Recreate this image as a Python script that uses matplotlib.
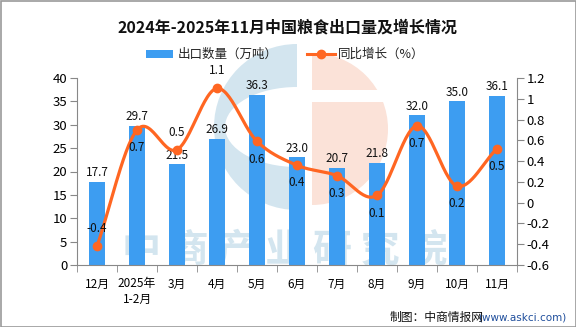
import numpy as np
import matplotlib
matplotlib.use("Agg")
import matplotlib.pyplot as plt
from matplotlib.patches import Wedge, Ellipse, Rectangle
from matplotlib.lines import Line2D

plt.rcParams['font.family'] = ['Noto Sans CJK SC', 'DejaVu Sans']

categories = ['12月', '2025年\n1-2月', '3月', '4月', '5月', '6月', '7月', '8月', '9月', '10月', '11月']
export_vol = [17.7, 29.7, 21.5, 26.9, 36.3, 23.0, 20.7, 21.8, 32.0, 35.0, 36.1]
yoy_growth = [-0.42, 0.70, 0.51, 1.10, 0.59, 0.36, 0.26, 0.07, 0.74, 0.16, 0.52]
yoy_labels = ['-0.4', '0.7', '0.5', '1.1', '0.6', '0.4', '0.3', '0.1', '0.7', '0.2', '0.5']
yoy_label_above = [True, False, True, True, False, False, False, False, False, False, False]

BAR_C = '#3d9df1'
LINE_C = '#ff6622'

W, H = 576, 327
fig = plt.figure(figsize=(W / 100, H / 100), dpi=100)
fig.patch.set_facecolor('white')

# background axes in pixel coords for watermark / legend / text
bg = fig.add_axes([0, 0, 1, 1], zorder=0)
bg.set_xlim(0, W)
bg.set_ylim(H, 0)
bg.axis('off')

# watermark logo
wm_blue = '#d3e5ef'
wm_orange = '#fbe2d8'
bg.add_patch(Wedge((297, 127), 83, 90, 270, facecolor=wm_blue, edgecolor='none'))
bg.add_patch(Ellipse((297, 127), 144, 80, facecolor='white', edgecolor='none'))
bg.add_patch(Wedge((312, 129), 76, -90, 90, facecolor=wm_orange, edgecolor='none'))
bg.add_patch(Rectangle((312, 90), 90, 12, facecolor='white', edgecolor='none'))
bg.text(285, 251, '中 商 产 业 研 究 院', fontsize=28, fontweight='bold', color=wm_blue,
        ha='center', va='center', linespacing=1.0)

# border
bg.add_patch(Rectangle((0.5, 0.5), W - 1, H - 1, facecolor='none', edgecolor='#999999', lw=1.2))

# title
bg.text(288, 27, '2024年-2025年11月中国粮食出口量及增长情况', fontsize=11.5, fontweight='bold',
        ha='center', va='center', color='#111111')

# legend
bg.add_patch(Rectangle((146, 50), 27, 8, facecolor=BAR_C, edgecolor='none'))
bg.text(178, 54, '出口数量（万吨）', fontsize=9, ha='left', va='center', color='#222222')
bg.add_line(Line2D([307, 335], [54, 54], color=LINE_C, lw=2.2))
bg.plot([321], [54], 'o', color=LINE_C, ms=6)
bg.text(338, 54, '同比增长（%）', fontsize=9, ha='left', va='center', color='#222222')

# source
bg.text(566, 317, '(www.askci.com)', fontsize=7.5, ha='right', va='center',
        color='#1f4e9c', family=['DejaVu Sans'])
bg.text(484, 317, '制图：中商情报网', fontsize=8.5, ha='right', va='center', color='#111111')

# main axes
ax = fig.add_axes([77 / W, 1 - 265 / H, (517 - 77) / W, (265 - 78) / H], zorder=1)
ax.patch.set_alpha(0)
x = np.arange(len(categories))
ax.bar(x, export_vol, width=0.4, color=BAR_C, zorder=2)
ax.set_xlim(-0.5, len(categories) - 0.5)
ax.set_ylim(0, 40)
ax.set_yticks(np.arange(0, 41, 5))
for xi, v in zip(x, export_vol):
    ax.text(xi, v + 2.0, f'{v:.1f}', ha='center', va='center', fontsize=8.5, color='#111111', zorder=5)

ax.set_xticks(x)
ax.set_xticklabels(categories, fontsize=8.5, linespacing=1.2)
ax.set_xticks(np.arange(-0.5, len(categories), 1), minor=True)
ax.tick_params(axis='x', which='major', length=0, pad=9)
ax.tick_params(axis='x', which='minor', length=5, color='#888888', direction='out')
ax.tick_params(axis='y', length=5, color='#888888', labelsize=9.5, pad=2)
for s in ['top', 'right']:
    ax.spines[s].set_visible(False)
for s in ['left', 'bottom']:
    ax.spines[s].set_color('#888888')

ax2 = ax.twinx()
ax2.set_ylim(-0.6, 1.2)
ax2.set_yticks(np.round(np.arange(-0.6, 1.21, 0.2), 1))
ax2.set_yticklabels(['-0.6', '-0.4', '-0.2', '0', '0.2', '0.4', '0.6', '0.8', '1', '1.2'])
ax2.tick_params(axis='y', length=5, color='#888888', labelsize=9.5, pad=2)
for s in ['top', 'left', 'bottom']:
    ax2.spines[s].set_visible(False)
ax2.spines['right'].set_color('#888888')

# smooth curve (Catmull-Rom / cubic Hermite)
yv = np.array(yoy_growth)
n = len(yv)
m = np.zeros(n)
m[1:-1] = (yv[2:] - yv[:-2]) / 2
m[0] = yv[1] - yv[0]
m[-1] = yv[-1] - yv[-2]
xs, ys = [], []
for i in range(n - 1):
    t = np.linspace(0, 1, 30)
    h00 = 2 * t**3 - 3 * t**2 + 1
    h10 = t**3 - 2 * t**2 + t
    h01 = -2 * t**3 + 3 * t**2
    h11 = t**3 - t**2
    xs.append(i + t)
    ys.append(h00 * yv[i] + h10 * m[i] + h01 * yv[i + 1] + h11 * m[i + 1])
xs = np.concatenate(xs)
ys = np.concatenate(ys)
ax2.plot(xs, ys, color=LINE_C, lw=2.3, zorder=3, solid_capstyle='round')
ax2.plot(x, yv, 'o', color=LINE_C, ms=6, zorder=4)
for xi, v, lab, above in zip(x, yv, yoy_labels, yoy_label_above):
    dy = 0.17 if above else -0.17
    ax2.text(xi, v + dy, lab, ha='center', va='center', fontsize=8.5, color='#111111', zorder=5)

fig.savefig('out.png', dpi=100)
